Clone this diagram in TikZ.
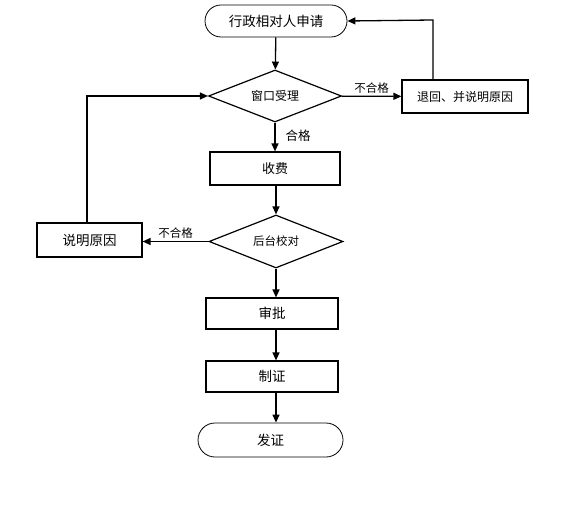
\documentclass[tikz,border=0pt]{standalone}
\usepackage{fontspec}
\newfontfamily\cjk{Noto Sans CJK SC}
\usetikzlibrary{shapes.geometric,shapes.misc,arrows.meta}
\begin{document}
\begin{tikzpicture}[x=1pt,y=-1pt,
  every node/.style={font=\cjk},
  term/.style={draw,line width=0.8pt,rounded rectangle,minimum width=#1,minimum height=32pt,inner sep=0pt},
  box/.style={draw,line width=1.2pt,rectangle,minimum width=#1,minimum height=32pt,inner sep=0pt},
  dia/.style={draw,line width=1.2pt,diamond,shape aspect=2.5,minimum width=#1,minimum height=53pt,inner sep=0pt},
  arr/.style={line width=1.3pt,-{Triangle[length=8pt,width=7pt]}},
  lab/.style={font=\cjk\fontsize{11.5}{12}\selectfont,inner sep=1pt}
]
\useasboundingbox (0,0) rectangle (585,510);
\node[term=142pt,font=\cjk\fontsize{13.5}{14}\selectfont] (start) at (276,21) {行政相对人申请};
\node[dia=133pt,minimum height=52pt,font=\cjk\fontsize{12}{13}\selectfont] (win) at (275,96) {窗口受理};
\node[box=126pt,minimum height=33pt,font=\cjk\fontsize{12}{13}\selectfont] (ret) at (465,96.5) {退回、并说明原因};
\node[box=130pt,minimum height=33pt,font=\cjk\fontsize{13}{14}\selectfont] (fee) at (275,168.5) {收费};
\node[dia=134pt,font=\cjk\fontsize{11.5}{12}\selectfont] (chk) at (276,241.5) {后台校对};
\node[box=105pt,minimum height=34pt,font=\cjk\fontsize{13.5}{14}\selectfont] (why) at (89.5,240) {说明原因};
\node[box=132pt,minimum height=31pt,font=\cjk\fontsize{13.5}{14}\selectfont] (appr) at (272,313.5) {审批};
\node[box=132pt,minimum height=31pt,font=\cjk\fontsize{13.5}{14}\selectfont] (make) at (272,376.5) {制证};
\node[term=145pt,minimum height=34pt,font=\cjk\fontsize{13.5}{14}\selectfont] (issue) at (270.5,440) {发证};

\coordinate (r1) at (433,20);
\coordinate (l1) at (87,96);

\draw[arr] (start) -- (win);
\draw[arr] (win) -- node[lab,above,yshift=1pt]{不合格} (ret);
\draw[arr] (ret.north -| r1) -- (r1) -- (start.east);
\draw[arr] (win) -- node[lab,right,xshift=9pt,yshift=1pt,font=\cjk\fontsize{12.5}{13}\selectfont]{合格} (fee);
\draw[arr] (fee.south -| chk) -- (chk.north);
\draw[arr] (chk.west) -- node[lab,above,yshift=1pt]{不合格} (chk.west -| why.east);
\draw[arr] (why.north -| l1) -- (l1) -- (win.west);
\draw[arr] (chk.south) -- (appr.north -| chk);
\draw[arr] (appr.south -| chk) -- (make.north -| chk);
\draw[arr] (make.south -| chk) -- (issue.north -| chk);
\end{tikzpicture}
\end{document}
